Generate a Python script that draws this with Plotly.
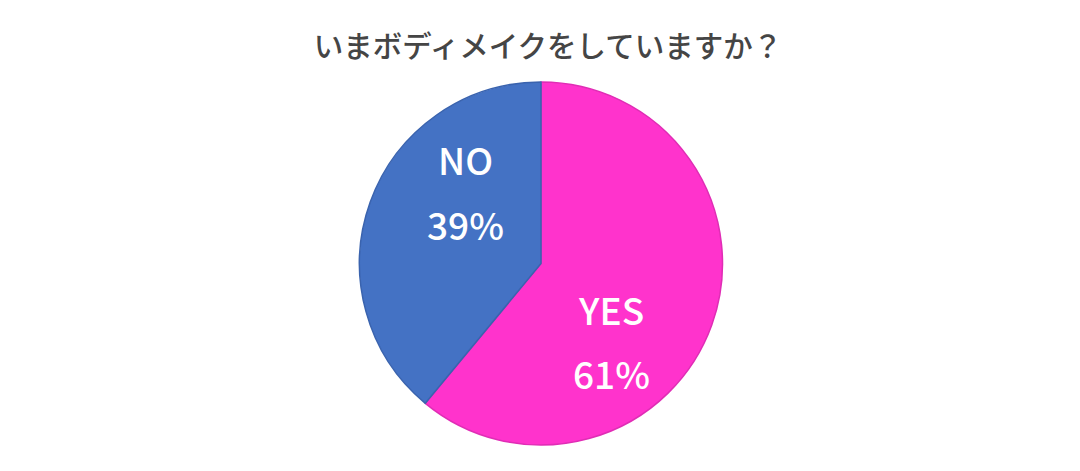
import plotly.graph_objects as go

# Survey answers
labels = ["YES", "NO"]
values = [61, 39]
colors = ["#FF33CC", "#4472C4"]
edge_colors = ["#E02DB5", "#3A63AE"]

title_text = "いまボディメイクをしていますか？"

# where each answer's label sits (paper coords of the plot area), like the Excel best-fit spot
label_pos = {"YES": (0.566, 0.374, 0.197), "NO": (0.429, 0.787, 0.608)}

fig = go.Figure(
    go.Pie(
        labels=labels,
        values=values,
        sort=False,
        direction="clockwise",
        rotation=0,
        marker=dict(colors=colors, line=dict(color=edge_colors, width=1.5)),
        textinfo="none",
        hoverinfo="label+percent",
        showlegend=False,
    )
)

label_font = dict(family="Noto Sans CJK JP", size=37, color="white", weight=500)
for lab, val in zip(labels, values):
    x, y1, y2 = label_pos[lab]
    for y, txt in [(y1, lab), (y2, f"{val}%")]:
        fig.add_annotation(x=x, y=y, xref="paper", yref="paper", text=txt,
                           xanchor="center", yanchor="middle",
                           showarrow=False, font=label_font)

fig.update_layout(
    width=1080,
    height=471,
    margin=dict(l=2, r=16, t=74, b=34),
    paper_bgcolor="white",
    plot_bgcolor="white",
    title=dict(
        text=title_text,
        x=0.5,
        xanchor="center",
        y=0.917,
        yanchor="middle",
        font=dict(family="Noto Sans CJK JP", size=29.5, color="#454545", weight=500),
    ),
)

fig.write_html("out.html")
